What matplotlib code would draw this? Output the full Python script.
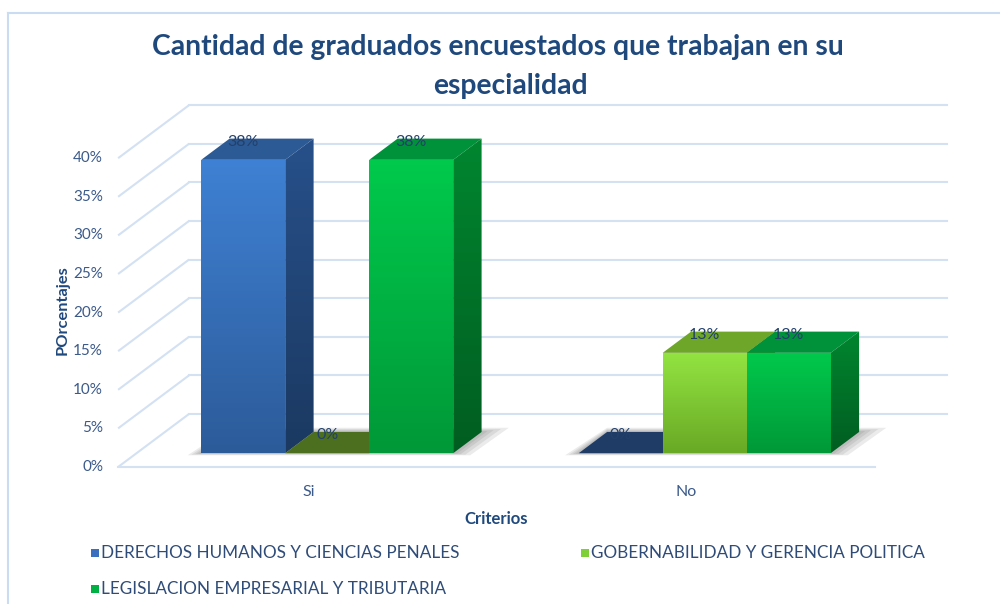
import matplotlib
matplotlib.use("Agg")
import matplotlib.pyplot as plt
import numpy as np
from matplotlib.colors import LinearSegmentedColormap
from matplotlib.lines import Line2D
from matplotlib.patches import Polygon, Rectangle


CATEGORIES = ["Si", "No"]
SERIES = [
    "DERECHOS HUMANOS Y CIENCIAS PENALES",
    "GOBERNABILIDAD Y GERENCIA POLITICA",
    "LEGISLACION EMPRESARIAL Y TRIBUTARIA",
]
derechos = [38, 0]
gobernabilidad = [0, 13]
legislacion = [38, 13]
Y_TICKS = [0, 5, 10, 15, 20, 25, 30, 35, 40]

# front top, front bottom, top face, side top, side bottom, flat colour for 0 values, legend
STYLES = [
    ("#3f81d4", "#2c5b99", "#2c5a94", "#27508a", "#1b3961", "#1e3c65", "#3a6fbf"),
    ("#93e442", "#69a925", "#6da628", "#5f9422", "#4a7a18", "#4b6e1f", "#7fcf36"),
    ("#00ca4c", "#009838", "#00923a", "#00862f", "#005d21", "#00602a", "#00b043"),
]

TEXT_BLUE = "#1f497d"
TICK_BLUE = "#3b5a8a"
GRID = "#d3e1f3"
FONT = "Lato"

# oblique depth of the floor, in data units (categories / percent)
DX = 0.188
DY = 6.87
BAR_W = 0.2225
T_FRONT = 0.26
T_BACK = 0.66


def shaded_face(ax, verts, top_color, bottom_color, zorder):
    poly = Polygon(verts, closed=True, facecolor="none", edgecolor="none", zorder=zorder)
    ax.add_patch(poly)
    xs = [v[0] for v in verts]
    ys = [v[1] for v in verts]
    cmap = LinearSegmentedColormap.from_list("face", [bottom_color, top_color])
    grad = np.linspace(0, 1, 256).reshape(-1, 1)
    im = ax.imshow(grad, cmap=cmap, origin="lower", aspect="auto", interpolation="bilinear",
                   extent=(min(xs), max(xs), min(ys), max(ys)), zorder=zorder)
    im.set_clip_path(poly)


def draw_bar(ax, x0, h, style, zorder):
    front_top, front_bot, top_col, side_top, side_bot, zero_col, _ = style
    fx, fy = T_FRONT * DX, T_FRONT * DY
    dx, dy = (T_BACK - T_FRONT) * DX, (T_BACK - T_FRONT) * DY
    xa, xb = x0 + fx, x0 + fx + BAR_W
    base, top = fy, fy + h
    top_face = [(xa, top), (xb, top), (xb + dx, top + dy), (xa + dx, top + dy)]
    if h == 0:
        ax.add_patch(Polygon(top_face, closed=True, facecolor=zero_col, edgecolor="none", zorder=zorder))
        return
    ax.add_patch(Polygon(top_face, closed=True, facecolor=top_col, edgecolor="none", zorder=zorder))
    side = [(xb, base), (xb + dx, base + dy), (xb + dx, top + dy), (xb, top)]
    shaded_face(ax, side, side_top, side_bot, zorder)
    front = [(xa, base), (xb, base), (xb, top), (xa, top)]
    shaded_face(ax, front, front_top, front_bot, zorder + 0.1)


def draw_shadow(ax, x_start, x_end, zorder):
    fx, fy = T_FRONT * DX, T_FRONT * DY
    dx, dy = (T_BACK - T_FRONT) * DX, (T_BACK - T_FRONT) * DY
    for e in [0.045, 0.032, 0.02, 0.01]:
        ey = e * 40
        verts = [
            (x_start + fx - e * 0.8, fy - ey * 0.15),
            (x_end + fx + e, fy - ey * 0.15),
            (x_end + fx + dx + e * 1.6, fy + dy + ey * 0.3),
            (x_start + fx + dx, fy + dy + ey * 0.3),
        ]
        ax.add_patch(Polygon(verts, closed=True, facecolor="#4a4a4a", edgecolor="none",
                             alpha=0.11, zorder=zorder))


fig = plt.figure(figsize=(10, 6.04), dpi=100)
ax = fig.add_axes([0, 0, 1, 1])
ax.set_xlim(-0.3179, 2.3311)
ax.set_ylim(-17.75, 60.49)
ax.axis("off")

# walls and gridlines
x_left = -0.005
x_front_end = 2.0
x_back_end = 2.19
for v in Y_TICKS:
    ax.plot([x_left, x_left + DX], [v, v + DY], color=GRID, lw=1.5, zorder=1, solid_capstyle="butt")
    ax.plot([x_left + DX, x_back_end], [v + DY, v + DY], color=GRID, lw=1.5, zorder=1)
    ax.text(-0.045, v, f"{v}%", ha="right", va="center", fontsize=11, color=TICK_BLUE, family=FONT)
ax.plot([x_left, x_front_end], [0, 0], color=GRID, lw=1.5, zorder=1)

# bars
values = [derechos, gobernabilidad, legislacion]
n = len(SERIES)
for ci, cat in enumerate(CATEGORIES):
    start = ci + 0.5 - n * BAR_W / 2
    draw_shadow(ax, start, start + n * BAR_W, zorder=2)
    for si in range(n):
        x0 = start + si * BAR_W
        h = values[si][ci]
        draw_bar(ax, x0, h, STYLES[si], zorder=3 + si)
    for si in range(n):
        x0 = start + si * BAR_W
        h = values[si][ci]
        cx = x0 + T_FRONT * DX + BAR_W / 2
        ax.text(cx, h + T_FRONT * DY + 2.33, f"{h}%", ha="center", va="center",
                fontsize=11.5, color="#23406b", family=FONT, zorder=10)
    ax.text(ci + 0.5, -3.24, cat, ha="center", va="center", fontsize=11.5,
            color=TICK_BLUE, family=FONT)

# titles
fig.text(0.4975, 1 - 47 / 604, "Cantidad de graduados encuestados que trabajan en su",
         ha="center", va="center", fontsize=20.3, fontweight="bold", color=TEXT_BLUE, family=FONT)
fig.text(0.510, 1 - 86 / 604, "especialidad", ha="center", va="center", fontsize=20.3,
         fontweight="bold", color=TEXT_BLUE, family=FONT)
fig.text(0.063, 1 - 310 / 604, "POrcentajes", rotation=90, ha="center", va="center",
         fontsize=11.8, fontweight="bold", color=TEXT_BLUE, family=FONT)
fig.text(0.496, 1 - 519 / 604, "Criterios", ha="center", va="center", fontsize=12,
         fontweight="bold", color=TEXT_BLUE, family=FONT)

# legend, laid out in rows like the original
legend_pos = [(91, 553), (581, 553), (91, 589)]
for (px, py), name, style in zip(legend_pos, SERIES, STYLES):
    fig.patches.append(Rectangle((px / 1000, 1 - (py + 4) / 604), 8 / 1000, 8 / 604,
                                 transform=fig.transFigure, facecolor=style[6], edgecolor="none"))
    fig.text((px + 10) / 1000, 1 - py / 604, name, ha="left", va="center", fontsize=12.3,
             color="#2f4c78", family=FONT)

# chart frame
border = "#c9dcf2"
fig.lines.append(Line2D([8 / 1000, 8 / 1000], [0, 1 - 13 / 604], transform=fig.transFigure, color=border, lw=1.5))
fig.lines.append(Line2D([8 / 1000, 1], [1 - 13 / 604, 1 - 13 / 604], transform=fig.transFigure, color=border, lw=1.5))

fig.savefig("out.png", dpi=100)
plt.close(fig)
